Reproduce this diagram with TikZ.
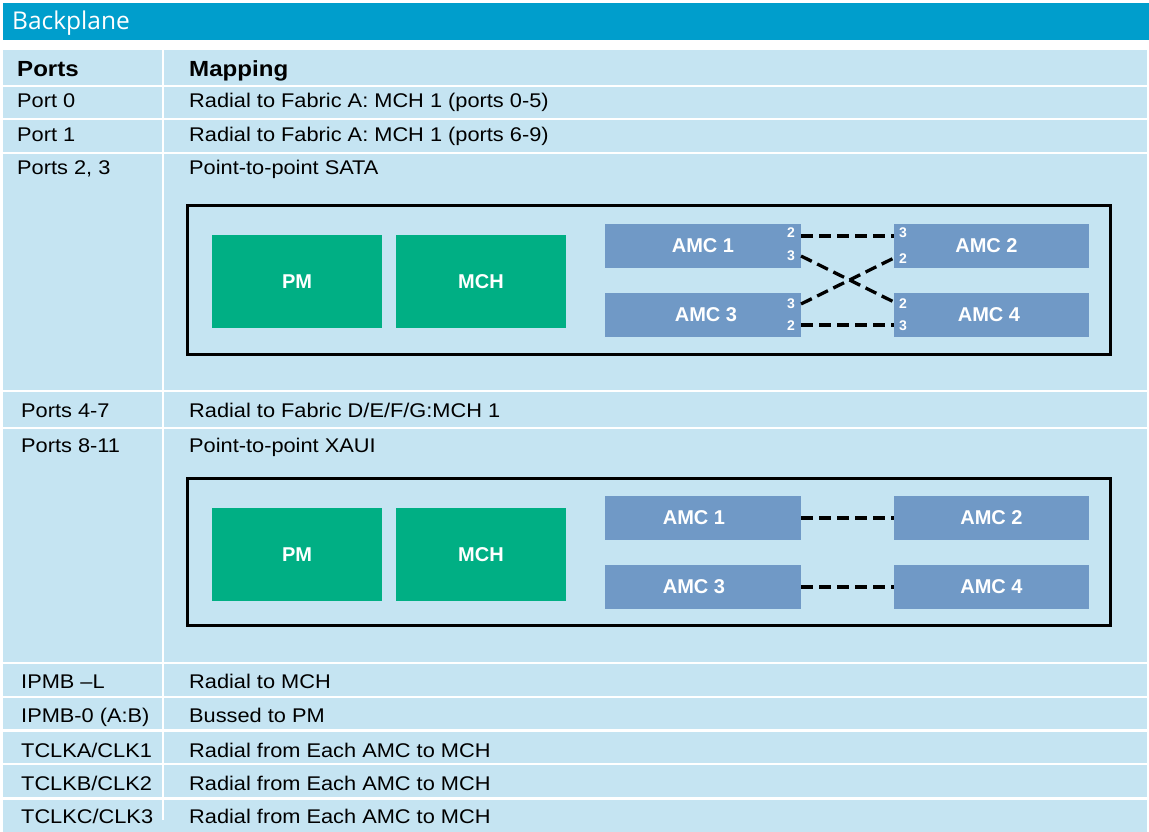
\documentclass[tikz,border=0pt]{standalone}
\usepackage{fontspec}
\setmainfont{Liberation Sans}
\newfontfamily\tabfont[FakeStretch=1.1]{Liberation Sans}
\newfontfamily\titlefont{Open Sans}
\definecolor{titleblue}{RGB}{0,158,204}
\definecolor{cellblue}{RGB}{197,228,242}
\definecolor{pmgreen}{RGB}{0,175,132}
\definecolor{amcblue}{RGB}{112,153,198}
\begin{document}
\begin{tikzpicture}[x=1pt,y=-1pt,
  cell/.style={anchor=base west, inner sep=0pt, text=black, font=\tabfont\fontsize{19.8}{20}\selectfont},
  head/.style={anchor=base west, inner sep=0pt, text=black, font=\tabfont\bfseries\fontsize{21.9}{22}\selectfont},
  sep/.style={draw=white, line width=2.5pt},
  frame/.style={draw=black, line width=3pt},
  greenbox/.style={fill=pmgreen, text=white, inner sep=0pt, minimum width=170pt, minimum height=93pt, font=\bfseries\fontsize{20}{20}\selectfont},
  amcbox/.style={fill=amcblue, text=white, inner sep=0pt, minimum width=196pt, minimum height=44pt, font=\bfseries\fontsize{20}{20}\selectfont},
  portnum/.style={text=white, inner sep=0pt, font=\bfseries\fontsize{14}{14}\selectfont},
  link/.style={draw=black, line width=3.3pt, dash pattern=on 12pt off 6pt}]
\useasboundingbox (0,0) rectangle (1149,832);
\fill[white] (0,0) rectangle (1149,832);
% title bar
\fill[titleblue] (3,3) rectangle (1149,40);
\node[anchor=base west, inner sep=0pt, text=white, font=\titlefont\fontsize{24.5}{25}\selectfont] (title) at (12,30) {Backplane};
% table background
\fill[cellblue] (3,50) rectangle (1147,832);
\foreach \y in {86,119,153,391,428,663,697,730.5,764,798.5}
  \draw[sep] (3,\y) -- (1147,\y);
\draw[sep] (163,50) -- (163,820);
% header
\node[head] (hports) at (17,77) {Ports};
\node[head] (hmap) at (189,77) {Mapping};
% rows
\node[cell] (p0) at (17,108) {Port 0};
\node[cell] (m0) at (189,108) {Radial to Fabric A: MCH 1 (ports 0-5)};
\node[cell] (p1) at (17,142) {Port 1};
\node[cell] (m1) at (189,142) {Radial to Fabric A: MCH 1 (ports 6-9)};
\node[cell] (p2) at (17,175) {Ports 2, 3};
\node[cell] (m2) at (189,175) {Point-to-point SATA};
\node[cell] (p4) at (21,417) {Ports 4-7};
\node[cell] (m4) at (189,417) {Radial to Fabric D/E/F/G:MCH 1};
\node[cell] (p8) at (21,452) {Ports 8-11};
\node[cell] (m8) at (189,452) {Point-to-point XAUI};
\node[cell] (pl) at (21,688) {IPMB –L};
\node[cell] (ml) at (189,688) {Radial to MCH};
\node[cell] (pb) at (21,722) {IPMB-0 (A:B)};
\node[cell] (mb) at (189,722) {Bussed to PM};
\node[cell] (pa) at (21,757) {TCLKA/CLK1};
\node[cell] (ma) at (189,757) {Radial from Each AMC to MCH};
\node[cell] (pk) at (21,790) {TCLKB/CLK2};
\node[cell] (mk) at (189,790) {Radial from Each AMC to MCH};
\node[cell] (pc) at (21,823) {TCLKC/CLK3};
\node[cell] (mc) at (189,823) {Radial from Each AMC to MCH};
% ---------- SATA diagram ----------
\draw[frame] (187.5,205.5) rectangle (1110.5,354.5);
\node[greenbox] (pmA) at (297,281.5) {PM};
\node[greenbox] (mchA) at (481,281.5) {MCH};
\node[amcbox] (a1) at (703,246) {AMC 1};
\node[amcbox, minimum width=195pt] (a2) at (991.5,246) {AMC 2\hspace*{10pt}};
\node[amcbox] (a3) at (703,315) {AMC 3\hspace*{-6pt}};
\node[amcbox, minimum width=195pt] (a4) at (991.5,315) {AMC 4\hspace*{5pt}};
\node[portnum] (a1n2) at (791,233) {2};
\node[portnum] (a1n3) at (791,256) {3};
\node[portnum] (a2n3) at (903,233) {3};
\node[portnum] (a2n2) at (903,259) {2};
\node[portnum] (a3n3) at (791,304) {3};
\node[portnum] (a3n2) at (791,325.5) {2};
\node[portnum] (a4n2) at (903,304) {2};
\node[portnum] (a4n3) at (903,326) {3};
\coordinate (c1a) at (801,236);
\coordinate (c1b) at (894,236);
\coordinate (c2a) at (801,256);
\coordinate (c2b) at (894,302);
\coordinate (c3a) at (801,304);
\coordinate (c3b) at (894,258);
\coordinate (c4a) at (801,325);
\coordinate (c4b) at (894,325);
\draw[link] (c1a) -- (c1b);
\draw[link] (c2a) -- (c2b);
\draw[link] (c3a) -- (c3b);
\draw[link] (c4a) -- (c4b);
% ---------- XAUI diagram ----------
\draw[frame] (187.5,478) rectangle (1110.5,625);
\node[greenbox] (pmB) at (297,554.5) {PM};
\node[greenbox] (mchB) at (481,554.5) {MCH};
\node[amcbox] (b1) at (703,518) {AMC 1\hspace*{18pt}};
\node[amcbox, minimum width=195pt] (b2) at (991.5,518) {AMC 2};
\node[amcbox] (b3) at (703,587) {AMC 3\hspace*{18pt}};
\node[amcbox, minimum width=195pt] (b4) at (991.5,587) {AMC 4};
\draw[link] (b1.east) -- (b2.west);
\draw[link] (b3.east) -- (b4.west);
\end{tikzpicture}
\end{document}
